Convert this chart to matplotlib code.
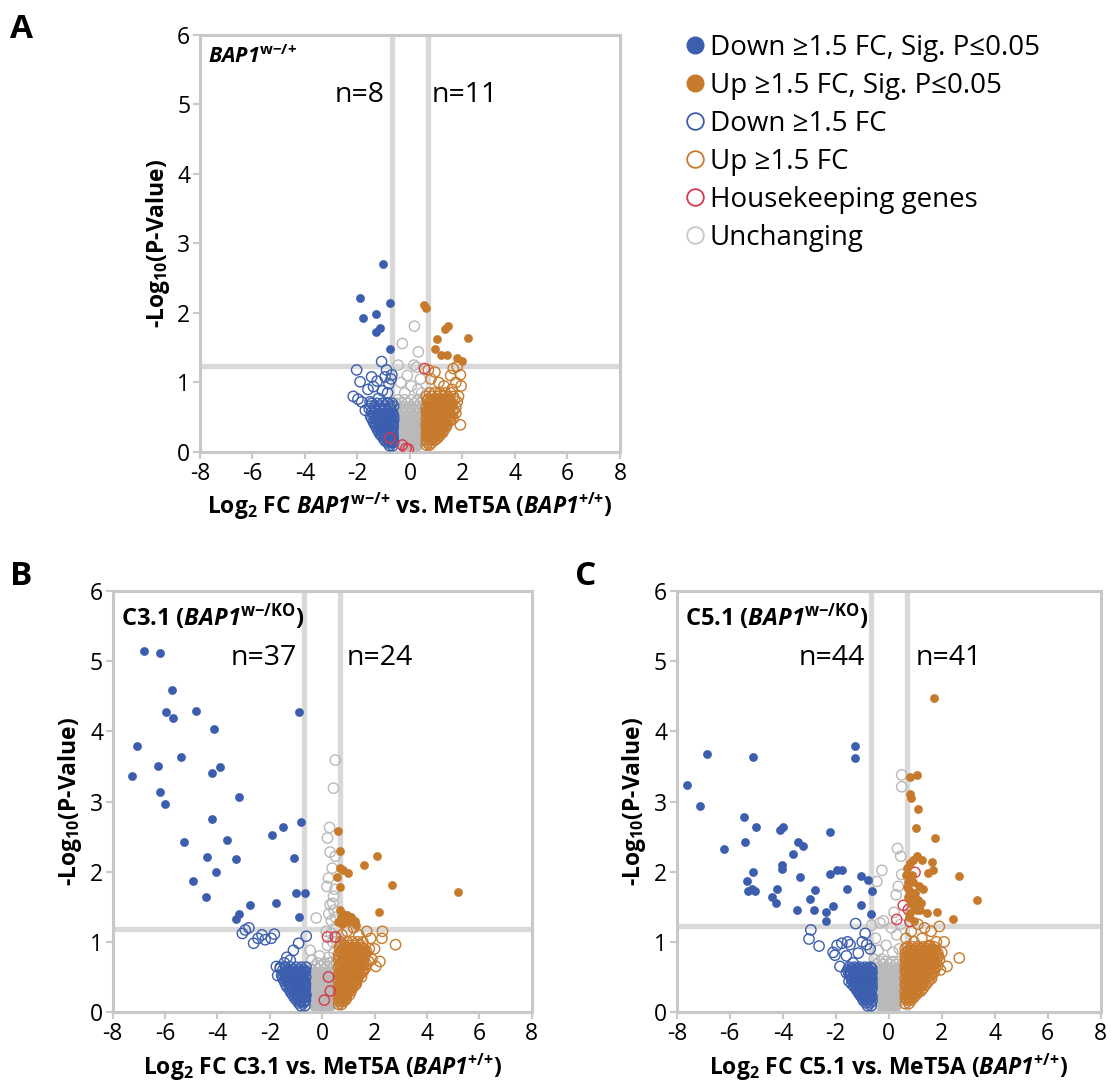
import numpy as np
import matplotlib
matplotlib.use('Agg')
import matplotlib.pyplot as plt
from matplotlib.lines import Line2D

plt.rcParams['font.family'] = ['Open Sans', 'DejaVu Sans']
plt.rcParams['mathtext.fontset'] = 'custom'
plt.rcParams['mathtext.rm'] = 'Open Sans:bold'
plt.rcParams['mathtext.bf'] = 'Open Sans:bold'
plt.rcParams['mathtext.it'] = 'Open Sans:bold:italic'
plt.rcParams['mathtext.sf'] = 'Open Sans:bold:italic'
plt.rcParams['axes.unicode_minus'] = False

BLUE = '#3c5eae'
ORANGE = '#c77a2c'
RED = '#d8384e'
GRAY = '#b9b9b9'
LINE = '#d9d9d9'
SPINE = '#c8c8c8'

# ---------------- data: (log2 FC, -log10 P) ----------------

# Panel A: BAP1 w-/+
a_down_sig = [(-1.01, 2.71), (-1.90, 2.21), (-0.76, 2.14), (-1.78, 1.93), (-1.29, 1.99),
              (-1.16, 1.78), (-1.29, 1.72), (-0.76, 1.48)]
a_up_sig = [(0.52, 2.12), (0.60, 2.07), (1.34, 1.77), (1.44, 1.81), (1.02, 1.62), (2.21, 1.64),
            (0.94, 1.48), (1.19, 1.40), (1.41, 1.40), (1.79, 1.35), (1.98, 1.31)]
a_down = [(-1.08, 1.30), (-2.03, 1.18), (-2.16, 0.80), (-1.90, 1.01), (-1.84, 0.72), (-1.46, 1.08),
          (-1.39, 0.94), (-1.52, 0.72), (-1.20, 0.77), (-0.89, 1.18), (-0.69, 1.11), (-0.80, 0.98),
          (-0.72, 1.05), (-0.95, 1.08), (-1.25, 1.02), (-1.60, 0.90), (-1.98, 0.76), (-1.70, 0.60),
          (-1.35, 0.62), (-1.05, 0.88), (-0.85, 0.85),
          (-1.45, 0.70), (-1.25, 0.70), (-1.05, 0.70), (-0.85, 0.70), (-0.68, 0.70),
          (-1.50, 0.66), (-1.35, 0.66), (-1.15, 0.66), (-0.95, 0.66), (-0.75, 0.66), (-0.62, 0.66),
          (-1.55, 0.62), (-1.15, 0.62), (-0.95, 0.62), (-0.75, 0.62),
          (-1.45, 0.58), (-1.30, 0.58), (-1.05, 0.58), (-0.85, 0.58), (-0.70, 0.58),
          (-1.40, 0.55), (-1.20, 0.55), (-1.00, 0.55), (-0.80, 0.55), (-0.65, 0.55),
          (-1.50, 0.51), (-1.20, 0.51), (-1.00, 0.51), (-0.80, 0.51), (-0.62, 0.51),
          (-1.45, 0.48), (-1.30, 0.48), (-1.10, 0.48), (-0.90, 0.48), (-0.72, 0.48),
          (-1.40, 0.44), (-1.20, 0.44), (-1.00, 0.44), (-0.85, 0.44), (-0.68, 0.44),
          (-1.35, 0.40), (-1.15, 0.40), (-0.95, 0.40), (-0.78, 0.40), (-0.64, 0.40),
          (-1.30, 0.37), (-1.10, 0.37), (-0.90, 0.37), (-0.74, 0.37),
          (-1.25, 0.33), (-1.05, 0.33), (-0.88, 0.33), (-0.70, 0.33),
          (-1.20, 0.30), (-1.02, 0.30), (-0.84, 0.30), (-0.66, 0.30),
          (-1.15, 0.26), (-0.98, 0.26), (-0.80, 0.26), (-0.65, 0.26),
          (-1.08, 0.23), (-0.92, 0.23), (-0.74, 0.23),
          (-1.00, 0.19), (-0.85, 0.19), (-0.70, 0.19),
          (-0.95, 0.16), (-0.78, 0.16), (-0.64, 0.16),
          (-0.85, 0.13), (-0.68, 0.13), (-0.78, 0.09), (-0.66, 0.09)]
a_down_core = [(-1.35, 0.50), (-1.10, 0.50), (-0.90, 0.50), (-0.70, 0.50),
               (-1.25, 0.46), (-1.05, 0.46), (-0.95, 0.46), (-0.78, 0.46), (-0.62, 0.46),
               (-1.30, 0.42), (-1.10, 0.42), (-0.92, 0.42), (-0.74, 0.42),
               (-1.20, 0.38), (-1.00, 0.38), (-0.85, 0.38), (-0.68, 0.38),
               (-1.15, 0.35), (-0.98, 0.35), (-0.80, 0.35), (-0.64, 0.35),
               (-1.10, 0.31), (-0.92, 0.31), (-0.75, 0.31),
               (-1.05, 0.27), (-0.88, 0.27), (-0.72, 0.27),
               (-0.95, 0.21), (-0.80, 0.21), (-0.64, 0.21), (-0.75, 0.14), (-0.62, 0.14)]
a_up = [(1.92, 0.39), (1.92, 1.11), (1.80, 1.23), (1.65, 1.20), (1.55, 1.10), (1.75, 1.00),
        (1.95, 0.95), (0.80, 1.05), (0.95, 1.15), (1.10, 1.00), (0.70, 1.18), (1.85, 0.80),
        (1.60, 0.90), (1.30, 0.95),
        (0.75, 0.85), (0.95, 0.85), (1.15, 0.85), (1.35, 0.85), (1.55, 0.85),
        (0.62, 0.80), (0.85, 0.80), (1.05, 0.80), (1.25, 0.80), (1.45, 0.80), (1.65, 0.80),
        (0.70, 0.76), (0.90, 0.76), (1.10, 0.76), (1.30, 0.76), (1.50, 0.76), (1.70, 0.76),
        (0.75, 0.72), (0.95, 0.72), (1.15, 0.72), (1.35, 0.72), (1.55, 0.72), (1.80, 0.72),
        (0.80, 0.68), (1.00, 0.68), (1.20, 0.68), (1.40, 0.68), (1.60, 0.68),
        (0.62, 0.64), (0.90, 0.64), (1.10, 0.64), (1.30, 0.64), (1.50, 0.64), (1.75, 0.64),
        (0.68, 0.60), (0.88, 0.60), (1.08, 0.60), (1.28, 0.60), (1.48, 0.60), (1.68, 0.60),
        (0.72, 0.56), (0.92, 0.56), (1.12, 0.56), (1.32, 0.56), (1.52, 0.56), (1.75, 0.56),
        (0.78, 0.52), (0.98, 0.52), (1.18, 0.52), (1.38, 0.52), (1.58, 0.52),
        (0.62, 0.48), (0.85, 0.48), (1.05, 0.48), (1.25, 0.48), (1.45, 0.48), (1.65, 0.48),
        (0.70, 0.44), (0.90, 0.44), (1.10, 0.44), (1.30, 0.44), (1.50, 0.44),
        (0.62, 0.40), (0.85, 0.40), (1.05, 0.40), (1.22, 0.40), (1.42, 0.40),
        (0.78, 0.36), (0.98, 0.36), (1.18, 0.36), (1.38, 0.36),
        (0.68, 0.32), (0.90, 0.32), (1.08, 0.32), (1.30, 0.32),
        (0.68, 0.28), (0.88, 0.28), (1.08, 0.28), (1.25, 0.28),
        (0.62, 0.24), (0.80, 0.24), (0.98, 0.24), (1.15, 0.24),
        (0.72, 0.20), (0.90, 0.20), (1.05, 0.20), (0.62, 0.17), (0.78, 0.17), (0.95, 0.17),
        (0.68, 0.13), (0.82, 0.13), (0.62, 0.10), (0.75, 0.10)]
a_up_core = [(0.65, 0.74), (0.85, 0.74), (1.05, 0.74), (1.25, 0.74), (1.45, 0.74),
             (0.70, 0.70), (0.92, 0.70), (1.12, 0.70), (1.32, 0.70), (1.52, 0.70),
             (0.72, 0.66), (0.95, 0.66), (1.15, 0.66), (1.35, 0.66), (1.58, 0.66),
             (0.78, 0.62), (1.00, 0.62), (1.20, 0.62), (1.40, 0.62),
             (0.62, 0.58), (0.82, 0.58), (1.02, 0.58), (1.22, 0.58), (1.42, 0.58), (1.62, 0.58),
             (0.65, 0.54), (0.88, 0.54), (1.08, 0.54), (1.28, 0.54), (1.48, 0.54),
             (0.70, 0.50), (0.90, 0.50), (1.10, 0.50), (1.30, 0.50), (1.50, 0.50),
             (0.75, 0.46), (0.95, 0.46), (1.15, 0.46), (1.35, 0.46), (1.55, 0.46),
             (0.68, 0.42), (0.95, 0.42), (1.15, 0.42), (1.35, 0.42),
             (0.65, 0.38), (0.88, 0.38), (1.08, 0.38), (1.28, 0.38),
             (0.62, 0.34), (0.80, 0.34), (1.00, 0.34), (1.20, 0.34),
             (0.78, 0.30), (0.98, 0.30), (1.18, 0.30),
             (0.72, 0.26), (0.90, 0.26), (1.10, 0.26), (0.65, 0.22), (0.82, 0.22), (0.98, 0.22)]
a_unch = [(0.17, 1.81), (-0.29, 1.56), (0.32, 1.44), (-0.45, 1.25), (0.15, 1.25), (0.25, 1.22),
          (-0.10, 1.10), (0.40, 1.05), (-0.35, 1.00), (0.05, 0.95), (-0.20, 0.85), (0.45, 0.85),
          (0.30, 0.90),
          (-0.45, 0.75), (-0.20, 0.75), (0.05, 0.75), (0.30, 0.75), (0.50, 0.75),
          (-0.52, 0.70), (-0.32, 0.70), (-0.08, 0.70), (0.18, 0.70), (0.40, 0.70),
          (-0.55, 0.65), (-0.30, 0.65), (-0.05, 0.65), (0.20, 0.65), (0.45, 0.65),
          (-0.40, 0.60), (-0.15, 0.60), (0.10, 0.60), (0.35, 0.60), (0.55, 0.60),
          (-0.45, 0.55), (-0.20, 0.55), (0.05, 0.55), (0.30, 0.55), (0.52, 0.55),
          (-0.55, 0.50), (-0.32, 0.50), (-0.08, 0.50), (0.18, 0.50), (0.42, 0.50),
          (-0.55, 0.45), (-0.32, 0.45), (-0.08, 0.45), (0.16, 0.45), (0.40, 0.45),
          (-0.40, 0.40), (-0.18, 0.40), (0.08, 0.40), (0.30, 0.40), (0.55, 0.40),
          (-0.45, 0.36), (-0.22, 0.36), (0.02, 0.36), (0.26, 0.36), (0.48, 0.36),
          (-0.35, 0.32), (-0.12, 0.32), (0.10, 0.32), (0.32, 0.32), (0.55, 0.32),
          (-0.50, 0.28), (-0.30, 0.28), (-0.08, 0.28), (0.14, 0.28), (0.36, 0.28),
          (-0.28, 0.24), (-0.05, 0.24), (0.16, 0.24), (0.36, 0.24), (0.52, 0.24),
          (-0.40, 0.20), (-0.18, 0.20), (0.04, 0.20), (0.26, 0.20), (0.44, 0.20),
          (-0.40, 0.16), (-0.20, 0.16), (0.00, 0.16), (0.20, 0.16), (0.38, 0.16),
          (-0.30, 0.12), (-0.10, 0.12), (0.10, 0.12), (0.30, 0.12),
          (-0.25, 0.08), (-0.05, 0.08), (0.12, 0.08), (0.24, 0.08),
          (-0.18, 0.05), (0.00, 0.05), (0.18, 0.05), (-0.10, 0.02), (0.08, 0.02)]
a_unch_core = [(-0.45, 0.48), (-0.20, 0.48), (0.05, 0.48), (0.30, 0.48), (0.50, 0.48),
               (-0.45, 0.42), (-0.20, 0.42), (0.05, 0.42), (0.28, 0.42), (0.50, 0.42),
               (-0.32, 0.38), (-0.08, 0.38), (0.16, 0.38), (0.40, 0.38),
               (-0.50, 0.34), (-0.25, 0.34), (0.00, 0.34), (0.22, 0.34), (0.45, 0.34),
               (-0.45, 0.30), (-0.22, 0.30), (0.02, 0.30), (0.24, 0.30), (0.45, 0.30),
               (-0.40, 0.26), (-0.18, 0.26), (0.05, 0.26), (0.26, 0.26), (0.45, 0.26),
               (-0.30, 0.22), (-0.08, 0.22), (0.15, 0.22), (0.35, 0.22),
               (-0.30, 0.18), (-0.08, 0.18), (0.12, 0.18), (0.30, 0.18),
               (-0.20, 0.14), (0.00, 0.14), (0.20, 0.14), (0.38, 0.14),
               (-0.20, 0.10), (0.00, 0.10), (0.20, 0.10), (-0.10, 0.06), (0.08, 0.06)]
a_house = [(0.55, 1.20), (-0.76, 0.20), (-0.29, 0.10), (-0.06, 0.04), (-0.15, 0.05)]

# Panel B: C3.1 (BAP1 w-/KO)
b_down_sig = [(-6.82, 5.15), (-6.21, 5.12), (-5.74, 4.59), (-5.97, 4.27), (-5.71, 4.19), (-4.82, 4.29),
              (-4.15, 4.03), (-7.07, 3.79), (-5.39, 3.63), (-6.29, 3.51), (-3.92, 3.49), (-7.26, 3.37),
              (-4.20, 3.40), (-6.18, 3.14), (-5.99, 2.96), (-3.16, 3.06), (-4.20, 2.75), (-0.80, 2.71),
              (-1.50, 2.63), (-1.90, 2.52), (-5.27, 2.43), (-3.63, 2.45), (-4.40, 2.21), (-3.28, 2.18),
              (-1.07, 2.20), (-4.05, 2.00), (-4.95, 1.87), (-4.43, 1.64), (-1.00, 1.70), (-0.65, 1.70),
              (-2.77, 1.53), (-1.76, 1.56), (-3.16, 1.40), (-3.28, 1.33), (-0.90, 1.35), (-0.88, 4.27)]
b_up_sig = [(0.62, 2.58), (0.66, 2.30), (2.09, 2.22), (1.58, 2.10), (0.66, 2.05), (0.79, 2.03),
            (1.00, 1.98), (0.58, 1.92), (2.66, 1.81), (0.69, 1.78), (2.15, 1.43), (5.20, 1.71),
            (0.70, 1.35), (0.85, 1.32), (1.00, 1.30), (1.15, 1.28), (0.75, 1.25), (0.95, 1.38),
            (1.25, 1.30), (0.62, 1.28), (1.10, 1.36), (0.80, 1.40), (1.30, 1.24), (0.68, 1.45)]
b_down = [(-2.94, 1.17), (-2.62, 0.98), (-2.30, 1.10), (-2.18, 1.03), (-1.83, 1.11), (-3.05, 1.12),
          (-2.80, 1.20), (-2.45, 1.05), (-1.95, 1.05), (-0.61, 1.08), (-0.90, 0.98), (-1.10, 0.88),
          (-1.22, 0.74), (-1.60, 0.62), (-1.45, 0.70), (-1.35, 0.78), (-1.70, 0.52), (-1.75, 0.65),
          (-1.60, 0.64), (-1.40, 0.64), (-1.20, 0.64), (-1.00, 0.64), (-0.80, 0.64), (-0.62, 0.64),
          (-1.50, 0.60), (-1.30, 0.60), (-1.10, 0.60), (-0.90, 0.60), (-0.70, 0.60),
          (-1.45, 0.56), (-1.25, 0.56), (-1.05, 0.56), (-0.85, 0.56), (-0.66, 0.56),
          (-1.55, 0.52), (-1.35, 0.52), (-1.15, 0.52), (-0.95, 0.52), (-0.75, 0.52),
          (-1.50, 0.48), (-1.30, 0.48), (-1.10, 0.48), (-0.90, 0.48), (-0.72, 0.48),
          (-1.45, 0.44), (-1.25, 0.44), (-1.05, 0.44), (-0.85, 0.44), (-0.66, 0.44),
          (-1.40, 0.40), (-1.20, 0.40), (-1.00, 0.40), (-0.82, 0.40), (-0.64, 0.40),
          (-1.35, 0.36), (-1.15, 0.36), (-0.95, 0.36), (-0.75, 0.36),
          (-1.25, 0.32), (-1.08, 0.32), (-0.88, 0.32), (-0.70, 0.32),
          (-1.20, 0.28), (-1.00, 0.28), (-0.80, 0.28), (-0.65, 0.28),
          (-1.12, 0.24), (-0.95, 0.24), (-0.76, 0.24), (-0.62, 0.24),
          (-1.05, 0.20), (-0.88, 0.20), (-0.70, 0.20),
          (-0.98, 0.17), (-0.80, 0.17), (-0.64, 0.17),
          (-0.90, 0.13), (-0.72, 0.13), (-0.82, 0.09), (-0.66, 0.09)]
b_down_core = [(-1.40, 0.58), (-1.20, 0.58), (-1.00, 0.58), (-0.80, 0.58), (-0.64, 0.58),
               (-1.50, 0.54), (-1.30, 0.54), (-1.10, 0.54), (-0.90, 0.54), (-0.70, 0.54),
               (-1.40, 0.50), (-1.20, 0.50), (-1.00, 0.50), (-0.80, 0.50), (-0.63, 0.50),
               (-1.35, 0.46), (-1.15, 0.46), (-0.95, 0.46), (-0.78, 0.46),
               (-1.30, 0.42), (-1.10, 0.42), (-0.92, 0.42), (-0.74, 0.42),
               (-1.25, 0.38), (-1.05, 0.38), (-0.85, 0.38), (-0.68, 0.38),
               (-1.20, 0.34), (-1.00, 0.34), (-0.82, 0.34), (-0.64, 0.34),
               (-1.12, 0.30), (-0.95, 0.30), (-0.76, 0.30),
               (-1.05, 0.26), (-0.88, 0.26), (-0.70, 0.26),
               (-0.98, 0.22), (-0.80, 0.22), (-0.65, 0.22), (-0.85, 0.15), (-0.68, 0.15)]
b_up = [(2.80, 0.96), (2.30, 1.15), (2.28, 1.05), (2.20, 0.72), (2.05, 0.65), (2.00, 0.90),
        (1.85, 1.05), (1.70, 1.15), (1.50, 0.50), (1.40, 1.10), (1.20, 1.20), (0.95, 1.15),
        (0.75, 1.10), (1.60, 0.85), (1.90, 0.75), (1.30, 0.40), (0.70, 0.95),
        (0.70, 1.00), (0.95, 1.00), (1.15, 1.00), (1.35, 1.00), (1.55, 1.00),
        (0.85, 0.95), (1.05, 0.95), (1.25, 0.95), (1.45, 0.95),
        (0.80, 0.90), (1.00, 0.90), (1.20, 0.90), (1.40, 0.90), (1.60, 0.90), (1.80, 0.90),
        (0.70, 0.86), (0.90, 0.86), (1.10, 0.86), (1.30, 0.86), (1.50, 0.86), (1.70, 0.86),
        (0.62, 0.82), (0.85, 0.82), (1.05, 0.82), (1.25, 0.82), (1.45, 0.82), (1.65, 0.82),
        (0.80, 0.77), (1.00, 0.77), (1.20, 0.77), (1.40, 0.77), (1.60, 0.77),
        (0.75, 0.72), (0.95, 0.72), (1.15, 0.72), (1.35, 0.72), (1.55, 0.72), (1.78, 0.72),
        (0.68, 0.68), (0.88, 0.68), (1.08, 0.68), (1.28, 0.68), (1.48, 0.68), (1.68, 0.68),
        (0.62, 0.63), (0.85, 0.63), (1.05, 0.63), (1.25, 0.63), (1.45, 0.63), (1.65, 0.63),
        (0.78, 0.59), (0.98, 0.59), (1.18, 0.59), (1.38, 0.59), (1.58, 0.59),
        (0.65, 0.54), (0.82, 0.54), (1.02, 0.54), (1.22, 0.54), (1.42, 0.54),
        (0.70, 0.50), (0.90, 0.50), (1.10, 0.50), (1.30, 0.50),
        (0.62, 0.45), (0.85, 0.45), (1.05, 0.45), (1.25, 0.45),
        (0.78, 0.41), (0.98, 0.41), (1.18, 0.41),
        (0.62, 0.36), (0.80, 0.36), (0.98, 0.36), (1.15, 0.36),
        (0.68, 0.32), (0.88, 0.32), (1.05, 0.32),
        (0.62, 0.27), (0.80, 0.27), (0.98, 0.27),
        (0.72, 0.23), (0.90, 0.23), (0.62, 0.19), (0.78, 0.19), (0.92, 0.19),
        (0.66, 0.15), (0.80, 0.15), (0.62, 0.11), (0.74, 0.11)]
b_up_core = [(0.65, 0.92), (0.90, 0.92), (1.10, 0.92), (1.30, 0.92), (1.50, 0.92),
             (0.75, 0.88), (0.95, 0.88), (1.15, 0.88), (1.35, 0.88), (1.55, 0.88),
             (0.72, 0.84), (0.95, 0.84), (1.15, 0.84), (1.35, 0.84), (1.55, 0.84),
             (0.65, 0.79), (0.90, 0.79), (1.10, 0.79), (1.30, 0.79), (1.50, 0.79),
             (0.62, 0.74), (0.85, 0.74), (1.05, 0.74), (1.25, 0.74), (1.45, 0.74),
             (0.78, 0.70), (0.98, 0.70), (1.18, 0.70), (1.38, 0.70), (1.58, 0.70),
             (0.75, 0.66), (0.95, 0.66), (1.15, 0.66), (1.35, 0.66), (1.55, 0.66),
             (0.70, 0.61), (0.92, 0.61), (1.12, 0.61), (1.32, 0.61), (1.52, 0.61),
             (0.72, 0.56), (0.92, 0.56), (1.12, 0.56), (1.32, 0.56), (1.52, 0.56),
             (0.62, 0.52), (0.80, 0.52), (1.00, 0.52), (1.20, 0.52), (1.40, 0.52),
             (0.75, 0.47), (0.95, 0.47), (1.15, 0.47), (1.35, 0.47),
             (0.70, 0.43), (0.90, 0.43), (1.10, 0.43), (1.30, 0.43),
             (0.70, 0.38), (0.90, 0.38), (1.08, 0.38), (1.25, 0.38),
             (0.62, 0.34), (0.78, 0.34), (0.96, 0.34), (1.15, 0.34),
             (0.75, 0.30), (0.92, 0.30), (1.10, 0.30), (0.70, 0.25), (0.88, 0.25), (1.05, 0.25),
             (0.68, 0.21), (0.85, 0.21), (0.72, 0.17), (0.88, 0.17)]
b_unch = [(0.50, 3.59), (0.43, 3.19), (0.28, 2.63), (0.20, 2.48), (0.30, 2.28), (0.50, 2.22),
          (0.38, 2.05), (0.24, 1.91), (0.18, 1.79), (0.43, 1.65), (0.30, 1.53), (-0.23, 1.34),
          (0.25, 1.40), (-0.46, 0.88), (-0.39, 0.74), (0.45, 1.45), (0.35, 1.30), (0.50, 1.20),
          (0.15, 1.15), (0.40, 1.00), (0.20, 0.95), (0.45, 0.85), (0.25, 0.78),
          (0.35, 1.12), (0.50, 1.35), (0.40, 1.55), (0.48, 1.75), (0.28, 0.70), (0.55, 1.05),
          (-0.10, 0.80),
          (-0.18, 0.70), (0.08, 0.70), (0.32, 0.70), (0.52, 0.70),
          (-0.30, 0.65), (-0.05, 0.65), (0.20, 0.65), (0.45, 0.65),
          (-0.40, 0.61), (-0.15, 0.61), (0.10, 0.61), (0.35, 0.61), (0.55, 0.61),
          (-0.45, 0.56), (-0.20, 0.56), (0.05, 0.56), (0.30, 0.56), (0.50, 0.56),
          (-0.25, 0.52), (0.00, 0.52), (0.25, 0.52), (0.48, 0.52),
          (-0.35, 0.47), (-0.10, 0.47), (0.15, 0.47), (0.40, 0.47),
          (-0.40, 0.43), (-0.15, 0.43), (0.10, 0.43), (0.32, 0.43), (0.55, 0.43),
          (-0.45, 0.38), (-0.22, 0.38), (0.02, 0.38), (0.26, 0.38), (0.48, 0.38),
          (-0.48, 0.34), (-0.25, 0.34), (0.00, 0.34), (0.25, 0.34), (0.48, 0.34),
          (-0.35, 0.30), (-0.12, 0.30), (0.12, 0.30), (0.36, 0.30),
          (-0.48, 0.26), (-0.28, 0.26), (-0.06, 0.26), (0.18, 0.26), (0.42, 0.26),
          (-0.40, 0.22), (-0.20, 0.22), (0.00, 0.22), (0.20, 0.22), (0.40, 0.22),
          (-0.35, 0.18), (-0.15, 0.18), (0.05, 0.18), (0.24, 0.18), (0.45, 0.18),
          (-0.25, 0.14), (-0.05, 0.14), (0.15, 0.14), (0.32, 0.14),
          (-0.30, 0.10), (-0.10, 0.10), (0.10, 0.10), (0.30, 0.10),
          (-0.15, 0.07), (0.05, 0.07), (0.20, 0.07), (-0.20, 0.04), (0.15, 0.04),
          (-0.05, 0.02), (0.08, 0.02)]
b_unch_core = [(-0.35, 0.54), (-0.10, 0.54), (0.15, 0.54), (0.40, 0.54),
               (-0.45, 0.50), (-0.20, 0.50), (0.05, 0.50), (0.30, 0.50), (0.52, 0.50),
               (-0.25, 0.45), (0.00, 0.45), (0.25, 0.45), (0.48, 0.45),
               (-0.30, 0.41), (-0.05, 0.41), (0.20, 0.41), (0.45, 0.41),
               (-0.35, 0.36), (-0.10, 0.36), (0.14, 0.36), (0.38, 0.36),
               (-0.45, 0.32), (-0.22, 0.32), (0.02, 0.32), (0.25, 0.32), (0.50, 0.32),
               (-0.40, 0.28), (-0.18, 0.28), (0.05, 0.28), (0.28, 0.28), (0.50, 0.28),
               (-0.30, 0.24), (-0.10, 0.24), (0.10, 0.24), (0.30, 0.24), (0.50, 0.24),
               (-0.28, 0.20), (-0.08, 0.20), (0.12, 0.20), (0.32, 0.20),
               (-0.40, 0.16), (-0.18, 0.16), (0.02, 0.16), (0.22, 0.16), (0.40, 0.16),
               (-0.20, 0.12), (0.00, 0.12), (0.20, 0.12), (0.38, 0.12),
               (-0.22, 0.08), (-0.02, 0.08), (0.15, 0.08), (-0.08, 0.05), (0.10, 0.05), (0.25, 0.05)]
b_house = [(0.20, 1.07), (0.50, 1.07), (0.24, 0.50), (0.31, 0.30), (0.08, 0.17)]

# Panel C: C5.1 (BAP1 w-/KO)
c_down_sig = [(-6.87, 3.68), (-5.11, 3.64), (-1.27, 3.79), (-1.27, 3.62), (-7.62, 3.24), (-7.12, 2.94),
              (-5.45, 2.78), (-5.02, 2.63), (-4.10, 2.59), (-3.98, 2.63), (-2.22, 2.56), (-5.42, 2.42),
              (-6.20, 2.33), (-3.43, 2.42), (-3.22, 2.37), (-3.60, 2.25), (-4.02, 2.09), (-4.02, 2.04),
              (-5.11, 1.99), (-2.22, 1.96), (-1.96, 2.03), (-1.77, 2.03), (-1.06, 1.94), (-0.77, 1.88),
              (-3.35, 1.92), (-5.36, 1.87), (-5.30, 1.73), (-5.05, 1.73), (-5.17, 1.75), (-4.22, 1.75),
              (-2.78, 1.74), (-1.58, 1.75), (-0.62, 1.72), (-4.42, 1.64), (-4.26, 1.55), (-2.97, 1.61),
              (-2.09, 1.51), (-1.06, 1.52), (-3.47, 1.45), (-2.83, 1.45), (-2.38, 1.43), (-0.68, 1.39),
              (-2.38, 1.30)]
c_up_sig = [(1.71, 4.47), (1.06, 3.38), (0.80, 3.35), (0.80, 3.10), (0.83, 3.05), (1.12, 2.89),
            (1.03, 2.62), (1.75, 2.48), (1.06, 2.22), (0.93, 2.17), (1.25, 2.17), (1.62, 2.14),
            (0.80, 2.12), (1.68, 2.03), (1.49, 1.98), (2.66, 1.94), (0.74, 1.86), (1.31, 1.76),
            (0.78, 1.74), (0.96, 1.62), (3.32, 1.59), (1.12, 1.59), (1.18, 1.46), (1.43, 1.41),
            (1.81, 1.42), (2.42, 1.33), (0.80, 1.41), (0.93, 1.52), (0.70, 1.78), (0.66, 1.95),
            (0.72, 1.64), (0.90, 1.85), (1.00, 1.70), (0.85, 1.55), (1.05, 1.45), (0.75, 1.35),
            (0.95, 1.30), (1.20, 1.55), (0.70, 2.05), (1.15, 1.80), (0.88, 1.95)]
c_down = [(-2.94, 1.17), (-3.01, 1.04), (-2.63, 0.94), (-1.25, 1.26), (-0.89, 1.12), (-0.83, 0.96),
          (-2.03, 0.81), (-1.77, 0.98), (-1.46, 0.96), (-1.84, 0.65), (-1.15, 0.84), (-1.60, 0.80),
          (-1.35, 0.70), (-2.10, 0.85), (-1.00, 1.00), (-0.70, 0.90), (-1.55, 1.00), (-1.95, 0.95),
          (-1.50, 0.64), (-1.30, 0.64), (-1.10, 0.64), (-0.90, 0.64), (-0.70, 0.64),
          (-1.55, 0.60), (-1.35, 0.60), (-1.15, 0.60), (-0.95, 0.60), (-0.75, 0.60),
          (-1.60, 0.56), (-1.40, 0.56), (-1.20, 0.56), (-1.00, 0.56), (-0.80, 0.56), (-0.63, 0.56),
          (-1.45, 0.52), (-1.25, 0.52), (-1.05, 0.52), (-0.85, 0.52), (-0.66, 0.52),
          (-1.40, 0.48), (-1.20, 0.48), (-1.00, 0.48), (-0.82, 0.48), (-0.64, 0.48),
          (-1.50, 0.44), (-1.30, 0.44), (-1.10, 0.44), (-0.90, 0.44), (-0.72, 0.44),
          (-1.40, 0.40), (-1.20, 0.40), (-1.00, 0.40), (-0.80, 0.40), (-0.63, 0.40),
          (-1.30, 0.36), (-1.10, 0.36), (-0.90, 0.36), (-0.70, 0.36),
          (-1.22, 0.32), (-1.02, 0.32), (-0.84, 0.32), (-0.66, 0.32),
          (-1.15, 0.28), (-0.95, 0.28), (-0.78, 0.28),
          (-1.08, 0.24), (-0.90, 0.24), (-0.72, 0.24),
          (-1.00, 0.20), (-0.85, 0.20), (-0.68, 0.20),
          (-0.95, 0.16), (-0.78, 0.16), (-0.63, 0.16),
          (-0.85, 0.13), (-0.70, 0.13), (-0.80, 0.09), (-0.66, 0.09)]
c_down_core = [(-1.40, 0.62), (-1.20, 0.62), (-1.00, 0.62), (-0.80, 0.62), (-0.64, 0.62),
               (-1.45, 0.58), (-1.25, 0.58), (-1.05, 0.58), (-0.85, 0.58), (-0.68, 0.58),
               (-1.50, 0.54), (-1.30, 0.54), (-1.10, 0.54), (-0.90, 0.54), (-0.72, 0.54),
               (-1.30, 0.50), (-1.10, 0.50), (-0.90, 0.50), (-0.72, 0.50),
               (-1.40, 0.46), (-1.20, 0.46), (-1.00, 0.46), (-0.80, 0.46), (-0.64, 0.46),
               (-1.30, 0.42), (-1.10, 0.42), (-0.90, 0.42), (-0.72, 0.42),
               (-1.30, 0.38), (-1.10, 0.38), (-0.90, 0.38), (-0.72, 0.38),
               (-1.20, 0.34), (-1.00, 0.34), (-0.80, 0.34), (-0.63, 0.34),
               (-1.10, 0.30), (-0.92, 0.30), (-0.74, 0.30),
               (-1.05, 0.26), (-0.86, 0.26), (-0.68, 0.26),
               (-0.95, 0.22), (-0.78, 0.22), (-0.63, 0.22), (-0.88, 0.18), (-0.72, 0.18)]
c_up = [(2.66, 0.77), (2.09, 1.00), (1.91, 1.22), (2.00, 0.85), (1.80, 1.00), (1.60, 1.15),
        (1.35, 1.20), (1.10, 1.25), (0.85, 1.15), (0.65, 1.05), (2.20, 0.65), (1.95, 0.60),
        (1.55, 0.95), (1.25, 1.05), (0.95, 1.00),
        (0.70, 0.93), (0.90, 0.93), (1.10, 0.93), (1.30, 0.93), (1.50, 0.93), (1.70, 0.93),
        (0.75, 0.88), (0.95, 0.88), (1.15, 0.88), (1.35, 0.88), (1.55, 0.88), (1.75, 0.88),
        (0.62, 0.84), (0.85, 0.84), (1.05, 0.84), (1.25, 0.84), (1.45, 0.84), (1.65, 0.84), (1.85, 0.84),
        (0.68, 0.79), (0.88, 0.79), (1.08, 0.79), (1.28, 0.79), (1.48, 0.79), (1.68, 0.79), (1.88, 0.79),
        (0.70, 0.75), (0.90, 0.75), (1.10, 0.75), (1.30, 0.75), (1.50, 0.75), (1.70, 0.75), (1.92, 0.75),
        (0.78, 0.70), (0.98, 0.70), (1.18, 0.70), (1.38, 0.70), (1.58, 0.70), (1.78, 0.70),
        (0.62, 0.66), (0.85, 0.66), (1.05, 0.66), (1.25, 0.66), (1.45, 0.66), (1.65, 0.66), (1.85, 0.66),
        (0.70, 0.61), (0.90, 0.61), (1.10, 0.61), (1.30, 0.61), (1.50, 0.61), (1.70, 0.61),
        (0.70, 0.57), (0.90, 0.57), (1.10, 0.57), (1.30, 0.57), (1.50, 0.57), (1.72, 0.57),
        (0.78, 0.52), (0.98, 0.52), (1.18, 0.52), (1.38, 0.52), (1.58, 0.52),
        (0.62, 0.48), (0.82, 0.48), (1.02, 0.48), (1.22, 0.48), (1.42, 0.48), (1.62, 0.48),
        (0.68, 0.43), (0.88, 0.43), (1.08, 0.43), (1.28, 0.43), (1.48, 0.43),
        (0.62, 0.39), (0.82, 0.39), (1.02, 0.39), (1.20, 0.39), (1.40, 0.39),
        (0.75, 0.34), (0.95, 0.34), (1.15, 0.34), (1.30, 0.34),
        (0.62, 0.30), (0.85, 0.30), (1.05, 0.30), (1.22, 0.30),
        (0.68, 0.25), (0.86, 0.25), (1.04, 0.25), (0.62, 0.21), (0.78, 0.21), (0.95, 0.21),
        (0.70, 0.17), (0.85, 0.17), (0.62, 0.12), (0.76, 0.12)]
c_up_core = [(0.62, 0.90), (0.85, 0.90), (1.05, 0.90), (1.25, 0.90), (1.45, 0.90), (1.65, 0.90),
             (0.70, 0.86), (0.95, 0.86), (1.15, 0.86), (1.35, 0.86), (1.55, 0.86), (1.75, 0.86),
             (0.75, 0.82), (0.95, 0.82), (1.15, 0.82), (1.35, 0.82), (1.55, 0.82), (1.78, 0.82),
             (0.62, 0.77), (0.80, 0.77), (1.00, 0.77), (1.20, 0.77), (1.40, 0.77), (1.60, 0.77), (1.80, 0.77),
             (0.66, 0.72), (0.88, 0.72), (1.08, 0.72), (1.28, 0.72), (1.48, 0.72), (1.68, 0.72),
             (0.70, 0.68), (0.92, 0.68), (1.12, 0.68), (1.32, 0.68), (1.52, 0.68), (1.72, 0.68),
             (0.75, 0.64), (0.95, 0.64), (1.15, 0.64), (1.35, 0.64), (1.55, 0.64), (1.75, 0.64),
             (0.62, 0.59), (0.80, 0.59), (1.00, 0.59), (1.20, 0.59), (1.40, 0.59), (1.60, 0.59),
             (0.65, 0.55), (0.85, 0.55), (1.05, 0.55), (1.25, 0.55), (1.45, 0.55), (1.65, 0.55),
             (0.70, 0.50), (0.90, 0.50), (1.10, 0.50), (1.30, 0.50), (1.50, 0.50),
             (0.75, 0.46), (0.95, 0.46), (1.15, 0.46), (1.35, 0.46), (1.55, 0.46),
             (0.72, 0.41), (0.92, 0.41), (1.12, 0.41), (1.30, 0.41),
             (0.65, 0.37), (0.85, 0.37), (1.05, 0.37), (1.25, 0.37),
             (0.70, 0.32), (0.90, 0.32), (1.10, 0.32), (0.75, 0.28), (0.95, 0.28), (1.12, 0.28),
             (0.70, 0.23), (0.88, 0.23), (0.66, 0.19), (0.82, 0.19)]
c_unch = [(0.49, 3.38), (0.49, 3.21), (0.33, 2.33), (0.45, 2.22), (-0.26, 2.02), (-0.45, 1.86),
          (0.49, 1.96), (0.36, 1.79), (0.28, 1.67), (0.20, 1.42), (-0.33, 1.27), (-0.64, 1.24),
          (-0.20, 1.30), (0.10, 1.20), (0.45, 1.25), (-0.50, 1.05), (0.30, 1.10), (-0.10, 0.95),
          (-0.40, 0.88), (0.15, 0.85), (0.40, 0.90), (-0.55, 0.75), (-0.25, 0.75),
          (-0.35, 0.72), (-0.10, 0.72), (0.15, 0.72), (0.42, 0.72),
          (-0.45, 0.68), (-0.20, 0.68), (0.05, 0.68), (0.30, 0.68), (0.55, 0.68),
          (-0.45, 0.63), (-0.18, 0.63), (0.08, 0.63), (0.32, 0.63), (0.58, 0.63),
          (-0.55, 0.59), (-0.30, 0.59), (-0.05, 0.59), (0.20, 0.59), (0.45, 0.59),
          (-0.60, 0.55), (-0.35, 0.55), (-0.10, 0.55), (0.15, 0.55), (0.42, 0.55),
          (-0.45, 0.50), (-0.20, 0.50), (0.05, 0.50), (0.30, 0.50), (0.55, 0.50),
          (-0.45, 0.46), (-0.20, 0.46), (0.05, 0.46), (0.28, 0.46), (0.52, 0.46),
          (-0.55, 0.42), (-0.32, 0.42), (-0.08, 0.42), (0.16, 0.42), (0.40, 0.42),
          (-0.58, 0.38), (-0.35, 0.38), (-0.10, 0.38), (0.14, 0.38), (0.38, 0.38),
          (-0.45, 0.34), (-0.22, 0.34), (0.02, 0.34), (0.26, 0.34), (0.50, 0.34),
          (-0.52, 0.30), (-0.30, 0.30), (-0.06, 0.30), (0.18, 0.30), (0.42, 0.30),
          (-0.40, 0.26), (-0.18, 0.26), (0.06, 0.26), (0.30, 0.26),
          (-0.45, 0.22), (-0.22, 0.22), (0.00, 0.22), (0.22, 0.22), (0.45, 0.22),
          (-0.32, 0.18), (-0.10, 0.18), (0.12, 0.18), (0.34, 0.18),
          (-0.25, 0.15), (-0.02, 0.15), (0.25, 0.15),
          (-0.22, 0.11), (0.00, 0.11), (0.22, 0.11),
          (-0.20, 0.07), (0.00, 0.07), (0.18, 0.07),
          (-0.10, 0.04), (0.08, 0.04), (-0.04, 0.01), (0.12, 0.01)]
c_unch_core = [(-0.50, 0.53), (-0.25, 0.53), (0.00, 0.53), (0.25, 0.53), (0.50, 0.53),
               (-0.35, 0.48), (-0.10, 0.48), (0.15, 0.48), (0.42, 0.48),
               (-0.42, 0.44), (-0.18, 0.44), (0.08, 0.44), (0.32, 0.44), (0.55, 0.44),
               (-0.45, 0.40), (-0.22, 0.40), (0.02, 0.40), (0.26, 0.40), (0.50, 0.40),
               (-0.50, 0.36), (-0.25, 0.36), (0.00, 0.36), (0.25, 0.36), (0.50, 0.36),
               (-0.35, 0.32), (-0.12, 0.32), (0.12, 0.32), (0.35, 0.32), (0.58, 0.32),
               (-0.40, 0.28), (-0.18, 0.28), (0.08, 0.28), (0.30, 0.28), (0.52, 0.28),
               (-0.35, 0.24), (-0.10, 0.24), (0.12, 0.24), (0.35, 0.24),
               (-0.40, 0.20), (-0.20, 0.20), (0.02, 0.20), (0.24, 0.20), (0.40, 0.20),
               (-0.35, 0.16), (-0.12, 0.16), (0.12, 0.16), (0.35, 0.16),
               (-0.12, 0.13), (0.10, 0.13), (0.32, 0.13),
               (-0.30, 0.09), (-0.10, 0.09), (0.10, 0.09), (0.28, 0.09),
               (-0.15, 0.05), (0.05, 0.05), (0.22, 0.05)]
c_house = [(0.99, 1.99), (0.55, 1.52), (0.74, 1.46), (0.30, 1.32), (0.80, 1.29)]

# thresholds as drawn (log2 FC cut-offs and -log10 P cut-off)
fc_cut = 0.68
p_cut = {'A': 1.24, 'B': 1.19, 'C': 1.23}
counts = {'A': ('n=8', 'n=11'), 'B': ('n=37', 'n=24'), 'C': ('n=44', 'n=41')}

legend_labels = ['Down \u22651.5 FC, Sig. P\u22640.05', 'Up \u22651.5 FC, Sig. P\u22640.05',
                 'Down \u22651.5 FC', 'Up \u22651.5 FC', 'Housekeeping genes', 'Unchanging']


def xy(pairs):
    arr = np.array(pairs)
    return arr[:, 0], arr[:, 1]


def volcano(ax, key, down_sig, up_sig, down, up, unch, house, title, title_size, xlabel, n_xy):
    ax.axvline(-fc_cut, color=LINE, lw=3.8, zorder=1)
    ax.axvline(fc_cut, color=LINE, lw=3.8, zorder=1)
    ax.axhline(p_cut[key], color=LINE, lw=3.8, zorder=1)

    ax.scatter(*xy(unch), s=55, facecolors='none', edgecolors=GRAY, linewidths=1.0, zorder=2)
    ax.scatter(*xy(down), s=55, facecolors='none', edgecolors=BLUE, linewidths=1.0, zorder=3)
    ax.scatter(*xy(up), s=55, facecolors='none', edgecolors=ORANGE, linewidths=1.0, zorder=3)
    ax.scatter(*xy(house), s=55, facecolors='none', edgecolors=RED, linewidths=1.0, zorder=4)
    ax.scatter(*xy(down_sig), s=40, color=BLUE, linewidths=0, zorder=5)
    ax.scatter(*xy(up_sig), s=40, color=ORANGE, linewidths=0, zorder=5)

    ax.set_xlim(-8, 8)
    ax.set_ylim(0, 6)
    ax.set_xticks(range(-8, 9, 2))
    ax.set_yticks(range(0, 7))
    ax.tick_params(length=5, width=1.5, color=SPINE, labelsize=16.5, pad=2)
    for sp in ax.spines.values():
        sp.set_color(SPINE)
        sp.set_linewidth(2.2)

    ax.set_ylabel('-Log$_{10}$(P-Value)', fontsize=16.5, fontweight='bold', labelpad=4)
    ax.set_xlabel(xlabel, fontsize=16.5, fontweight='bold', labelpad=4)
    ax.text(0.02, 0.975, title, transform=ax.transAxes, ha='left', va='top',
            fontsize=title_size, fontweight='bold')
    ax.text(n_xy[0], n_xy[2], counts[key][0], ha='right', va='baseline', fontsize=20.5)
    ax.text(n_xy[1], n_xy[2], counts[key][1], ha='left', va='baseline', fontsize=20.5)


fig = plt.figure(figsize=(11.14, 10.81), dpi=100)
axA = fig.add_axes([0.1795, 0.5819, 0.3770, 0.3858])
axB = fig.add_axes([0.1012, 0.0638, 0.3761, 0.3895])
axC = fig.add_axes([0.6075, 0.0638, 0.3806, 0.3895])

volcano(axA, 'A', a_down_sig, a_up_sig, a_down + a_down_core, a_up + a_up_core,
        a_unch + a_unch_core, a_house,
        r'$\mathsf{BAP1}^{\mathrm{w{-}/{+}}}$', 15.5,
        r'Log$_2$ FC $\mathsf{BAP1}^{\mathrm{w{-}/{+}}}$ vs. MeT5A ($\mathsf{BAP1}^{\mathrm{{+}/{+}}}$)',
        (-0.95, 0.84, 5.04))
volcano(axB, 'B', b_down_sig, b_up_sig, b_down + b_down_core, b_up + b_up_core,
        b_unch + b_unch_core, b_house,
        r'C3.1 ($\mathsf{BAP1}^{\mathrm{w{-}/KO}}$)', 17,
        r'Log$_2$ FC C3.1 vs. MeT5A ($\mathsf{BAP1}^{\mathrm{{+}/{+}}}$)',
        (-0.97, 0.95, 4.95))
volcano(axC, 'C', c_down_sig, c_up_sig, c_down + c_down_core, c_up + c_up_core,
        c_unch + c_unch_core, c_house,
        r'C5.1 ($\mathsf{BAP1}^{\mathrm{w{-}/KO}}$)', 17,
        r'Log$_2$ FC C5.1 vs. MeT5A ($\mathsf{BAP1}^{\mathrm{{+}/{+}}}$)',
        (-0.89, 1.00, 4.95))

# panel letters
fig.text(0.009, 0.988, 'A', fontsize=24, fontweight='bold', va='top')
fig.text(0.009, 0.482, 'B', fontsize=24, fontweight='bold', va='top')
fig.text(0.516, 0.482, 'C', fontsize=24, fontweight='bold', va='top')

# legend
handles = [
    Line2D([], [], ls='', marker='o', ms=12, mfc=BLUE, mec=BLUE),
    Line2D([], [], ls='', marker='o', ms=12, mfc=ORANGE, mec=ORANGE),
    Line2D([], [], ls='', marker='o', ms=12, mfc='none', mec=BLUE, mew=1.3),
    Line2D([], [], ls='', marker='o', ms=12, mfc='none', mec=ORANGE, mew=1.3),
    Line2D([], [], ls='', marker='o', ms=12, mfc='none', mec=RED, mew=1.3),
    Line2D([], [], ls='', marker='o', ms=12, mfc='none', mec='#c8c8c8', mew=1.3),
]
fig.legend(handles, legend_labels, loc='upper left', bbox_to_anchor=(0.616, 0.969),
           frameon=False, fontsize=20, handlelength=0.65, handletextpad=0.2,
           labelspacing=0.36, borderpad=0, borderaxespad=0)

fig.savefig('out.png', dpi=100)
